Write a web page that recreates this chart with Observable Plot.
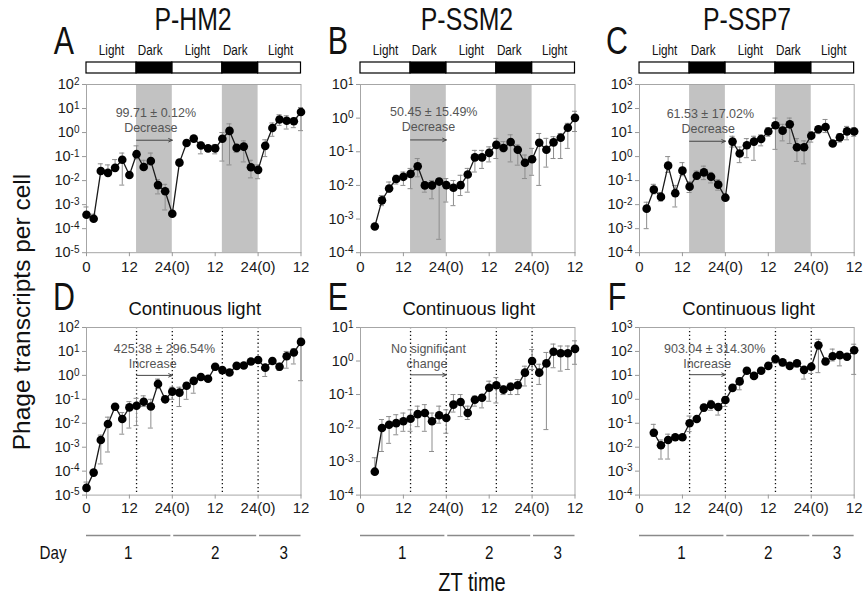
<!DOCTYPE html>
<html><head><meta charset="utf-8">
<script src="https://cdn.jsdelivr.net/npm/d3@7"></script>
<script src="https://cdn.jsdelivr.net/npm/@observablehq/plot@0.6"></script>
<style>
html,body{margin:0;padding:0;background:#fff;}
#root{position:relative;width:863px;height:599px;overflow:hidden;font-family:"Liberation Sans",Arial,sans-serif;color:#111;}
#root svg{position:absolute;overflow:visible;}
.lab{position:absolute;transform:translate(-50%,-50%);white-space:nowrap;line-height:1;}
.narrow{transform:translate(-50%,-50%) scaleX(0.8);}
</style></head><body><div id="root"></div><script>
// ---------- shared axis / category data ----------
const hours = [0,2,4,6,8,10,12,14,16,18,20,22,24,26,28,30,32,34,36,38,40,42,44,46,48,50,52,54,56,58,60];
const xTickHours = [0,12,24,36,48,60];
const xTickLabels = ["0","12","24(0)","12","24(0)","12"];
const darkStart = [14,38], darkEnd = [24,48];
const cycleStart = [0,14,24,38,48], cycleEnd = [14,24,38,48,60];
const cycleLabel = ["Light","Dark","Light","Dark","Light"];
const cycleLabelX = [7,17.8,31,41.6,54.3];
const dottedHours = [14,24,38,48];
const dayLabel = ["1","2","3"], dayStart = [0,24,48], dayEnd = [24,48,60], dayLabelX = [11.7,36,55.2];
const strains = ["P-HM2","P-SSM2","P-SSP7"];
const panelLetters = ["A","B","C","D","E","F"];

// ---------- series (phage transcripts per cell) ----------
const A_mean=[3.8e-4,2.6e-4,0.025,0.021,0.034,0.074,0.017,0.126,0.037,0.065,0.0065,0.0036,4.2e-4,0.056,0.37,0.56,0.29,0.22,0.22,0.55,1.17,0.23,0.26,0.036,0.028,0.28,1.55,3.5,3.1,2.95,7.2];
const A_hi=[8e-4,4e-4,0.05,0.045,0.075,0.14,0.02,0.28,0.07,0.14,0.011,0.007,null,0.063,0.48,0.68,0.4,0.28,0.32,1.0,2.3,0.3,0.45,0.07,0.045,0.5,2.5,5.5,5,4,11];
const A_lo=[3.0e-4,2.4e-4,0.02,0.016,0.025,0.0065,0.015,0.08,0.028,0.045,0.0028,6e-4,null,0.05,0.3,0.45,0.13,0.18,0.13,0.065,0.045,0.15,0.06,0.013,0.012,0.1,0.7,2.0,1.4,1.6,1.2];

const B_mean=[6.0e-4,0.0036,0.0081,0.0155,0.018,0.022,0.037,0.010,0.010,0.013,0.0102,0.0085,0.0102,0.021,0.068,0.068,0.093,0.16,0.13,0.195,0.115,0.047,0.06,0.185,0.115,0.19,0.26,0.52,1.02];
const B_hi=[null,0.005,0.0126,0.02,0.025,0.032,0.063,0.0126,0.014,0.016,0.016,0.014,0.02,0.032,0.11,0.11,0.14,0.25,0.2,0.32,0.16,0.08,0.126,0.35,0.25,0.28,0.35,0.7,1.6];
const B_lo=[null,0.0025,0.0063,0.011,0.01,0.008,0.018,0.0063,0.004,2.5e-4,0.0032,0.0025,0.005,0.0063,0.025,0.032,0.05,0.063,0.1,0.05,0.04,0.016,0.02,0.01,0.035,0.063,0.063,0.126,0.4];

const C_mean=[0.0068,0.042,0.021,0.42,0.03,0.26,0.056,0.16,0.22,0.145,0.068,0.0195,4.2,1.35,2.95,4.2,5.4,11,20,12,22,2.45,2.45,7.4,13.8,17,3.5,6.3,11.2,11];
const C_hi=[0.0126,0.07,0.032,1.0,0.063,0.56,0.09,0.25,0.4,0.22,0.11,null,7,2.5,5.6,7,8,16,40,22,40,5.6,4.5,11,18,35,null,9,18,16];
const C_lo=[0.001,0.028,0.014,0.22,0.008,0.16,0.032,0.11,0.11,0.08,0.04,null,2.5,0.56,0.9,0.7,2.8,7,2,4.5,3.5,0.63,0.5,4,9,10,null,4,5,7];

const D_mean=[2.0e-5,8.7e-5,0.002,0.0093,0.049,0.015,0.046,0.054,0.079,0.05,0.44,0.1,0.21,0.19,0.37,0.59,0.85,0.72,2.3,1.66,1.32,2.5,2.6,3.8,4.4,2.1,4.0,2.3,6.3,9,25];
const D_hi=[3.5e-5,null,0.0032,0.018,0.063,0.028,0.08,0.11,0.14,0.1,0.7,null,0.32,0.32,0.5,0.8,null,null,2.8,null,null,null,null,4.5,5,2.5,null,3.2,10,13,35];
const D_lo=[1.5e-5,null,2e-4,6.3e-4,0.035,0.0035,0.0063,0.008,0.05,0.0063,0.28,null,0.1,0.05,0.1,0.18,null,null,1.6,null,null,null,null,3,3.5,0.9,null,1.6,2,3,0.6];

const E_mean=[5.0e-4,0.010,0.0125,0.014,0.016,0.019,0.026,0.028,0.016,0.024,0.020,0.05,0.06,0.028,0.07,0.08,0.16,0.19,0.14,0.17,0.19,0.45,1.0,0.45,0.85,1.9,1.7,1.7,2.3];
const E_hi=[0.0013,0.018,0.022,0.025,0.028,0.035,0.045,0.05,0.028,0.045,0.035,0.1,0.1,0.045,0.09,0.1,0.25,0.32,0.18,0.22,0.28,0.7,2.2,0.8,1.8,3.2,2.8,2.8,4];
const E_lo=[5e-4,0.002,0.0035,0.0063,0.008,0.008,0.011,0.008,0.002,0.014,0.007,0.03,0.022,0.018,0.045,0.04,0.063,0.056,0.1,0.1,0.1,0.18,0.56,0.2,0.009,0.63,0.5,0.56,0.8];

const F_mean=[0.04,0.012,0.02,0.026,0.026,0.1,0.15,0.45,0.6,0.48,0.93,3.0,5.6,15.5,9.5,15.5,25,48,35,25,32,17,23,180,38,63,70,60,112];
const F_hi=[0.09,0.02,0.035,null,null,0.2,null,0.56,0.9,0.63,1.26,null,8,20,null,null,null,63,45,32,40,22,28,320,50,125,100,80,200];
const F_lo=[0.028,0.0032,0.0032,null,null,0.045,null,0.32,0.35,0.22,0.5,null,2.5,12,null,null,null,32,25,20,22,7,12,13,28,40,25,45,11];

// annotation texts
const noteLine1 = ["99.71 ± 0.12%","50.45 ± 15.49%","61.53 ± 17.02%","425.38 ± 296.54%","No significant","903.04 ± 314.30%"];
const noteLine2 = ["Decrease","Decrease","Decrease","Increase","change","Increase"];

// y-axis ticks per panel (decades)
const ticksA = [1e-5,1e-4,1e-3,1e-2,1e-1,1e0,1e1,1e2];
const ticksB = [1e-4,1e-3,1e-2,1e-1,1e0,1e1];
const ticksC = [1e-4,1e-3,1e-2,1e-1,1e0,1e1,1e2,1e3];

// ---------- layout ----------
const root = document.getElementById("root");
const mL = 46, mR = 14, mT = 10, mB = 30;
const cols = [{x0:85.5,x1:300},{x0:359.5,x1:574},{x0:639.3,x1:854}];
const rows = [{y0:84.3,y1:252.5},{y0:326.7,y1:494.3}];

const panels = [
  {t:hours,          mean:A_mean,hi:A_hi,lo:A_lo,ticks:ticksA,col:0,row:0,
   n1:[19.4,6.36],n2:[18.0,1.51],ay:0.479},
  {t:hours.slice(2), mean:B_mean,hi:B_hi,lo:B_lo,ticks:ticksB,col:1,row:0,
   n1:[20.5,1.51],n2:[19.0,0.546],ay:0.225},
  {t:hours.slice(1), mean:C_mean,hi:C_hi,lo:C_lo,ticks:ticksC,col:2,row:0,
   n1:[19.8,57.9],n2:[19.2,13.7],ay:4.34},
  {t:hours,          mean:D_mean,hi:D_hi,lo:D_lo,ticks:ticksA,col:0,row:1,
   n1:[21.8,12.4],n2:[18.5,2.93],ay:1.0},
  {t:hours.slice(2), mean:E_mean,hi:E_hi,lo:E_lo,ticks:ticksB,col:1,row:1,
   n1:[19.0,2.31],n2:[18.6,0.824],ay:0.387},
  {t:hours.slice(2), mean:F_mean,hi:F_hi,lo:F_lo,ticks:ticksC,col:2,row:1,
   n1:[21.0,124],n2:[18.9,29.3],ay:10.7}
];

function label(text, x, y, size, cls, extra){
  const d = document.createElement("div");
  d.className = "lab " + (cls||"");
  d.textContent = text;
  d.style.left = x + "px"; d.style.top = y + "px"; d.style.fontSize = size + "px";
  if (extra) Object.assign(d.style, extra);
  root.appendChild(d);
  return d;
}
// horizontally condense SVG texts (narrow typeface look)
function condense(svg, selector, k){
  d3.select(svg).selectAll(selector).each(function(){
    const tr = this.getAttribute("transform") || "";
    const xa = this.getAttribute("x"), ya = this.getAttribute("y");
    let pre = tr;
    if (xa != null && !isNaN(+xa)) { pre += ` translate(${+xa},0)`; this.setAttribute("x", 0); }
    if (ya != null && !isNaN(+ya)) { pre += ` translate(0,${+ya})`; this.setAttribute("y", 0); }
    this.setAttribute("transform", pre + ` scale(${k},1)`);
  });
}

const noteFont = "'Liberation Sans',Arial,sans-serif";

panels.forEach((p, i) => {
  const c = cols[p.col], r = rows[p.row];
  const width = mL + (c.x1 - c.x0) + mR;
  const height = mT + (r.y1 - r.y0) + mB;
  const data = p.t.map((t, k) => ({t, v: p.mean[k], hi: p.hi[k], lo: p.lo[k]}));
  const err = data.filter(d => d.hi != null && d.lo != null);
  const marks = [];
  if (p.row === 0) {
    marks.push(Plot.rect(darkStart.map((s, k) => ({s, e: darkEnd[k]})), {x1: "s", x2: "e", fill: "#c2c2c2"}));
  } else {
    marks.push(Plot.ruleX(dottedHours, {stroke: "#111", strokeWidth: 1.3, strokeDasharray: "1.3,2.6"}));
  }
  marks.push(
    Plot.frame({stroke: "#a6a6a6", strokeWidth: 1}),
    Plot.axisX({ticks: xTickHours, tickFormat: (d) => xTickLabels[xTickHours.indexOf(d)], tickSize: 4, tickPadding: p.row === 0 ? 5 : 3, fontSize: 15}),
    Plot.axisY({ticks: p.ticks, tickFormat: (d) => "10^" + Math.round(Math.log10(d)), tickSize: 4, tickPadding: 3, fontSize: 14.5}),
    Plot.ruleX(err, {x: "t", y1: "lo", y2: "hi", stroke: "#8d8d8d", strokeWidth: 1}),
    Plot.ruleY(err, {y: "hi", x1: (d) => d.t - 0.7, x2: (d) => d.t + 0.7, stroke: "#8d8d8d", strokeWidth: 1}),
    Plot.ruleY(err, {y: "lo", x1: (d) => d.t - 0.7, x2: (d) => d.t + 0.7, stroke: "#8d8d8d", strokeWidth: 1}),
    Plot.line(data, {x: "t", y: "v", stroke: "#1a1a1a", strokeWidth: 1.3}),
    Plot.dot(data, {x: "t", y: "v", r: 4.3, fill: "#000", stroke: "none"}),
    Plot.text([{x: p.n1[0], y: p.n1[1], s: noteLine1[i]}, {x: p.n2[0], y: p.n2[1], s: noteLine2[i]}],
      {x: "x", y: "y", text: "s", fill: "#555", fontSize: 12.5, fontFamily: noteFont}),
    Plot.arrow([{y: p.ay}], {x1: 14, x2: 24, y1: "y", y2: "y", stroke: "#444", strokeWidth: 1, headLength: 6, headAngle: 50})
  );
  const svg = Plot.plot({
    width, height, marginLeft: mL, marginRight: mR, marginTop: mT, marginBottom: mB,
    style: {background: "transparent", color: "#1a1a1a", fontFamily: "'Liberation Sans',Arial,sans-serif", overflow: "visible"},
    x: {type: "linear", domain: [0, 60]},
    y: {type: "log", domain: [p.ticks[0], p.ticks[p.ticks.length - 1]]},
    marks
  });
  svg.style.left = (c.x0 - mL) + "px";
  svg.style.top = (r.y0 - mT) + "px";
  root.appendChild(svg);
  d3.select(svg).selectAll('g[aria-label="x-axis tick"], g[aria-label="y-axis tick"]').attr("stroke", "#999");
  d3.select(svg).selectAll('g[aria-label="y-axis tick label"] text').each(function () {
    const s = this.textContent;
    const exp = s.split("^")[1];
    const t = d3.select(this);
    t.text(null);
    t.append("tspan").text("10");
    t.append("tspan").attr("dy", "-0.45em").attr("font-size", "10px").text(exp);
  });

  label(panelLetters[i], c.x0 - 22, p.row === 0 ? 41 : 297, 38, "narrow");

  if (p.row === 0) {
    label(strains[p.col], (c.x0 + c.x1) / 2, 19, 31, "narrow");
    const segs = cycleStart.map((s, k) => ({s, e: cycleEnd[k], lab: cycleLabel[k], lx: cycleLabelX[k]}));
    const bar = Plot.plot({
      width, height: 36, marginLeft: mL, marginRight: mR, marginTop: 24, marginBottom: 1,
      style: {background: "transparent", overflow: "visible"},
      x: {domain: [0, 60], axis: null},
      marks: [
        Plot.rect(segs.filter((d) => d.lab === "Light"), {x1: "s", x2: "e", fill: "#fff", stroke: "#000", strokeWidth: 1.2}),
        Plot.rect(segs.filter((d) => d.lab === "Dark"), {x1: "s", x2: "e", fill: "#000", stroke: "#000", strokeWidth: 1.2}),
        Plot.text(segs, {x: "lx", text: "lab", frameAnchor: "top", dy: -18, fontSize: 15, fill: "#111",
          fontFamily: "'Liberation Sans',Arial,sans-serif"})
      ]
    });
    bar.style.left = (c.x0 - mL) + "px";
    bar.style.top = (62 - 24) + "px";
    root.appendChild(bar);
    condense(bar, 'g[aria-label="text"] text', 0.78);
  } else {
    label("Continuous light", (c.x0 + c.x1) / 2 + 2, 309, 18.5, "");
    const days = dayStart.map((s, k) => ({s: s + (k > 0 ? 0.4 : 0), e: dayEnd[k] - (k < 2 ? 0.4 : 0), lab: dayLabel[k], lx: dayLabelX[k]}));
    const dayPlot = Plot.plot({
      width, height: 40, marginLeft: mL, marginRight: mR, marginTop: 0, marginBottom: 0,
      style: {background: "transparent", overflow: "visible"},
      x: {domain: [0, 60], axis: null},
      y: {domain: [0, 1], range: [5, 22], axis: null},
      marks: [
        Plot.ruleY(days, {y: () => 0, x1: "s", x2: "e", stroke: "#8a8a8a", strokeWidth: 1.6}),
        Plot.text(days, {x: "lx", y: () => 1, text: "lab", fontSize: 19, fill: "#111",
          fontFamily: "'Liberation Sans',Arial,sans-serif"})
      ]
    });
    dayPlot.style.left = (c.x0 - mL) + "px";
    dayPlot.style.top = "530px";
    root.appendChild(dayPlot);
    condense(dayPlot, 'g[aria-label="text"] text', 0.8);
  }
});

label("Day", 53, 552, 19, "narrow");
label("ZT time", 472, 582, 25, "narrow");
label("Phage transcripts per cell", 22, 312, 24.5, "", {transform: "translate(-50%,-50%) rotate(-90deg)"});
</script></body></html>
